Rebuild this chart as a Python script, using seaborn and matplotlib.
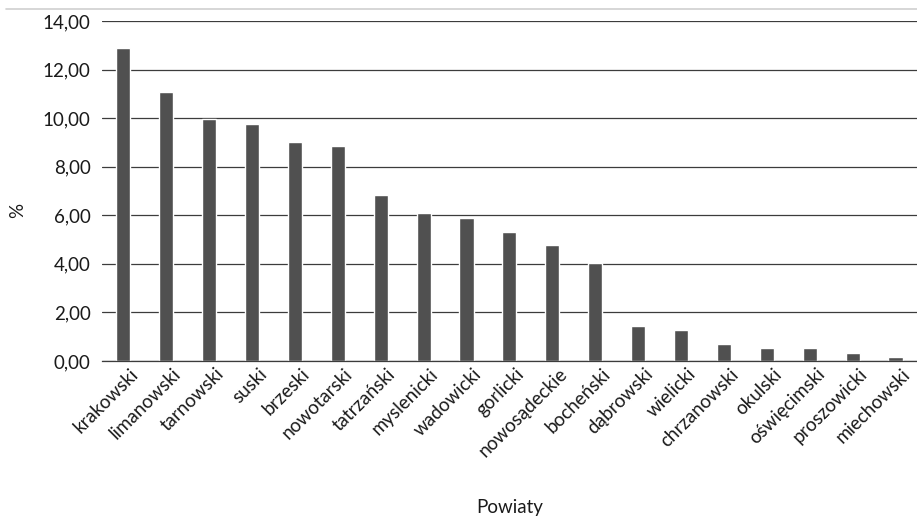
import matplotlib
matplotlib.use('Agg')
import matplotlib.pyplot as plt
import matplotlib.ticker as mticker
import matplotlib.transforms as mtransforms
from matplotlib.lines import Line2D
import pandas as pd
import seaborn as sns

powiaty = ['krakowski', 'limanowski', 'tarnowski', 'suski', 'brzeski', 'nowotarski',
           'tatrzański', 'myslenicki', 'wadowicki', 'gorlicki', 'nowosądeckie',
           'bocheński', 'dąbrowski', 'wielicki', 'chrzanowski', 'okulski',
           'oświęcimski', 'proszowicki', 'miechowski']
procent = [12.88, 11.08, 9.98, 9.76, 9.03, 8.86, 6.84, 6.10, 5.89, 5.31, 4.79,
           4.04, 1.45, 1.29, 0.71, 0.55, 0.55, 0.33, 0.17]

df = pd.DataFrame({'powiat': powiaty, 'procent': procent})

sns.set_style('white')
plt.rcParams['font.family'] = ['Lato', 'DejaVu Sans']

fig = plt.figure(figsize=(9.17, 5.19), dpi=100)
ax = fig.add_axes([0.111, 0.3044, 0.889, 0.6551])

sns.barplot(data=df, x='powiat', y='procent', color='#505050', width=0.33,
            saturation=1, ax=ax)

ax.set_ylim(0, 14)
ax.set_xlim(-0.5, len(powiaty) - 0.5)
ax.yaxis.set_major_locator(mticker.MultipleLocator(2))
ax.yaxis.set_major_formatter(mticker.FuncFormatter(lambda v, p: f'{v:.2f}'.replace('.', ',')))
ax.grid(axis='y', color='#3c3c3c', linewidth=0.9)
ax.set_axisbelow(True)
for s in ['top', 'left', 'right']:
    ax.spines[s].set_visible(False)
ax.spines['bottom'].set_color('#3c3c3c')
ax.spines['bottom'].set_linewidth(0.9)
ax.tick_params(axis='both', length=0, labelsize=13.5, labelcolor='#1a1a1a')
ax.tick_params(axis='y', pad=8)
ax.tick_params(axis='x', pad=3)
plt.setp(ax.get_xticklabels(), rotation=45, ha='right', va='top', rotation_mode='anchor')
# Excel puts the end of the label slightly right of the category centre
przesun = mtransforms.ScaledTranslation(0.06, 0, fig.dpi_scale_trans)
for lab in ax.get_xticklabels():
    lab.set_transform(lab.get_transform() + przesun)

ax.set_xlabel('Powiaty', fontsize=13.5, color='#1a1a1a')
ax.set_ylabel('%', fontsize=13.5, color='#1a1a1a')
ax.xaxis.set_label_coords(0.5, -0.432)
ax.yaxis.set_label_coords(-0.103, 0.444)
ax.yaxis.label.set_va('center')
ax.xaxis.label.set_va('center')

fig.add_artist(Line2D([0.007, 1.0], [0.982, 0.982], color='#cfcfcf', linewidth=1.2))

fig.savefig('out.png', dpi=100)
